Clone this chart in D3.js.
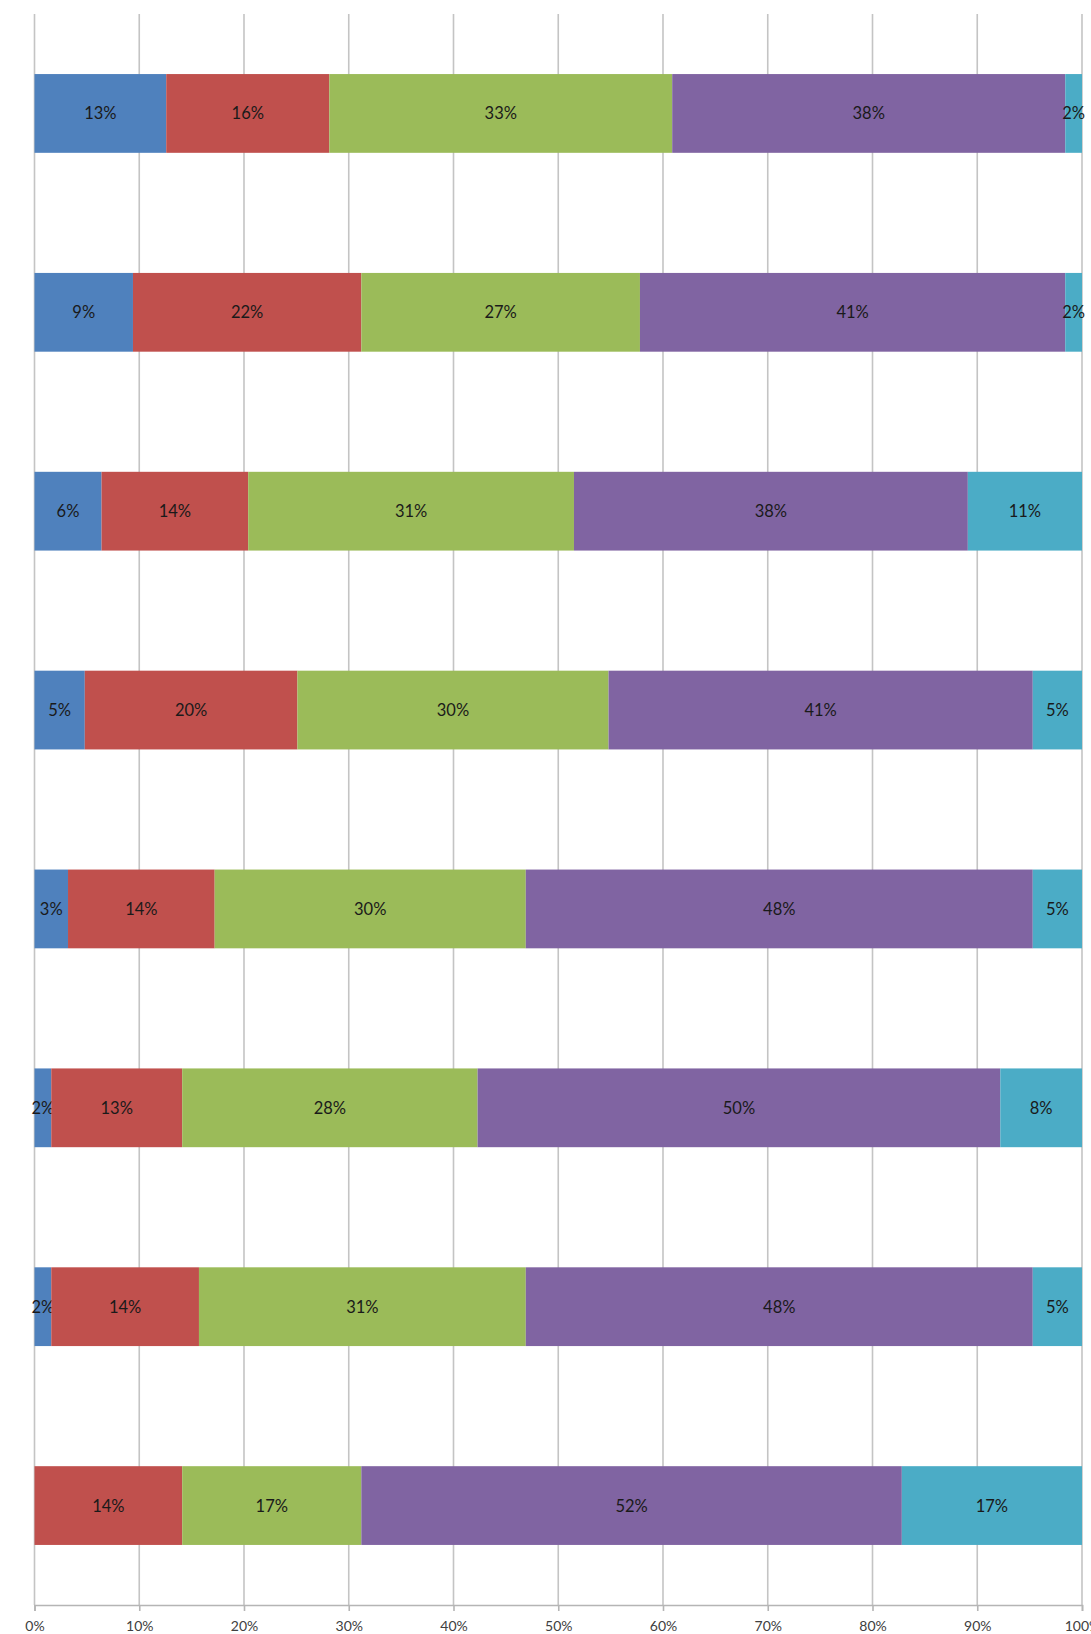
<!DOCTYPE html>
<html>
<head>
<meta charset="utf-8">
<script src="https://cdn.jsdelivr.net/npm/d3@7"></script>
<style>
  body { margin: 0; background: #fff; }
  text { font-family: Lato, "Open Sans", sans-serif; }
</style>
</head>
<body>
<div id="chart"></div>
<script>
// rows, top to bottom (no category labels shown in the chart)
const rows = ["r1", "r2", "r3", "r4", "r5", "r6", "r7", "r8"];
const seriesKeys = ["s1", "s2", "s3", "s4", "s5"];
const colors = ["#4F81BD", "#C0504D", "#9BBB59", "#8064A2", "#4BACC6"];

// percent values per series (one entry per row)
const s1 = [12.6, 9.4, 6.4, 4.8, 3.2, 1.6, 1.6, 0];
const s2 = [15.6, 21.8, 14.0, 20.3, 14.0, 12.5, 14.1, 14.1];
const s3 = [32.8, 26.6, 31.1, 29.7, 29.7, 28.2, 31.2, 17.1];
const s4 = [37.6, 40.6, 37.6, 40.5, 48.4, 49.9, 48.4, 51.6];
const s5 = [1.6, 1.6, 10.9, 4.7, 4.7, 7.8, 4.7, 17.2];

const tickValues = [0, 0.1, 0.2, 0.3, 0.4, 0.5, 0.6, 0.7, 0.8, 0.9, 1];

const width = 1091;
const height = 1634;
const margin = { top: 14, right: 9, bottom: 29, left: 34.5 };

const table = rows.map((r, i) => ({
  row: r, s1: s1[i], s2: s2[i], s3: s3[i], s4: s4[i], s5: s5[i]
}));

const stacked = d3.stack()
  .keys(seriesKeys)
  .offset(d3.stackOffsetExpand)(table);

const x = d3.scaleLinear()
  .domain([0, 1])
  .range([margin.left, width - margin.right]);

const y = d3.scaleBand()
  .domain(rows)
  .range([margin.top, height - margin.bottom])
  .paddingInner(0.604)
  .paddingOuter(0.302);

const svg = d3.select("#chart")
  .append("svg")
  .attr("width", width)
  .attr("height", height);

// vertical gridlines
svg.append("g")
  .selectAll("line")
  .data(tickValues)
  .enter()
  .append("line")
  .attr("x1", d => x(d))
  .attr("x2", d => x(d))
  .attr("y1", margin.top)
  .attr("y2", height - margin.bottom)
  .attr("stroke", "#c4c4c4")
  .attr("stroke-width", 1.6);

// bars
const layers = svg.append("g")
  .selectAll("g")
  .data(stacked)
  .enter()
  .append("g")
  .attr("fill", (d, i) => colors[i]);

layers.selectAll("rect")
  .data(d => d.filter(p => p[1] - p[0] > 0))
  .enter()
  .append("rect")
  .attr("x", d => x(d[0]))
  .attr("width", d => x(d[1]) - x(d[0]))
  .attr("y", d => y(d.data.row))
  .attr("height", y.bandwidth());

// data labels
layers.selectAll("text")
  .data(d => d.map(p => ({ p: p, v: p.data[d.key] })).filter(o => o.v > 0))
  .enter()
  .append("text")
  .attr("x", o => x((o.p[0] + o.p[1]) / 2))
  .attr("y", o => y(o.p.data.row) + y.bandwidth() / 2)
  .attr("dy", "0.36em")
  .attr("text-anchor", "middle")
  .attr("fill", "#1a1a1a")
  .style("font-size", "16.5px")
  .text(o => Math.round(o.v) + "%");

// bottom axis
const axis = svg.append("g")
  .attr("transform", `translate(0,${height - margin.bottom})`)
  .call(d3.axisBottom(x)
    .tickValues(tickValues)
    .tickFormat(d3.format(".0%"))
    .tickSize(6)
    .tickPadding(10));

axis.select(".domain").attr("stroke", "#b5b5b5").attr("stroke-width", 1.6);
axis.selectAll(".tick line").attr("stroke", "#b5b5b5").attr("stroke-width", 1.6);
axis.selectAll(".tick text")
  .attr("fill", "#404040")
  .style("font-size", "14px")
  .style("font-family", "Lato, 'Open Sans', sans-serif");
</script>
</body>
</html>
